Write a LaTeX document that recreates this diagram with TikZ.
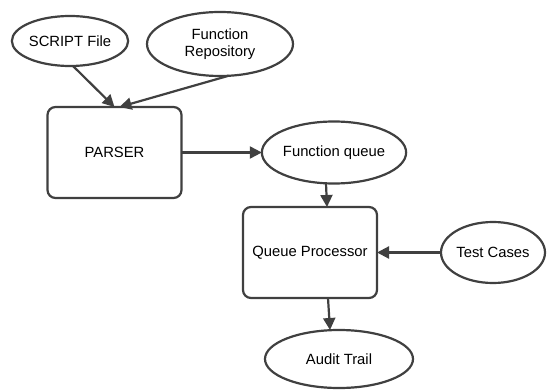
\documentclass[tikz,border=0pt]{standalone}
\usepackage{fontspec}
\setmainfont{Liberation Sans}
\usetikzlibrary{arrows.meta,shapes.geometric}
\definecolor{edge}{HTML}{404040}
\tikzset{
  base/.style={draw=edge, line width=2.2pt, fill=white, font=\fontsize{14.8}{17}\selectfont, align=center, inner sep=0pt, outer sep=0pt},
  oval/.style={base, ellipse, minimum width=#1},
  procbox/.style={base, rectangle, rounded corners=8pt, minimum width=134pt, minimum height=91pt},
  arr/.style={draw=edge, line width=2.2pt, -{Triangle[length=12pt,width=12pt]}},
}
\begin{document}
\begin{tikzpicture}[x=1pt,y=-1pt]
\useasboundingbox (0,0) rectangle (548,390);
\node[oval=115pt, minimum height=50pt] (script) at (70,41) {SCRIPT File};
\node[oval=146pt, minimum height=64pt] (repo) at (220,44) {Function\\Repository};
\node[procbox] (parser) at (114.5,152.5) {PARSER};
\node[oval=137pt, minimum height=62pt] (fq) at (334,152.5) {Function queue};
\node[procbox] (qp) at (310,252.5) {Queue Processor};
\node[oval=104pt, minimum height=61pt] (tc) at (493,252.5) {Test Cases};
\node[oval=148pt, minimum height=58pt] (audit) at (339,359) {Audit Trail};
\draw[arr] ([xshift=3pt]script.south) -- ([xshift=0pt]parser.north);
\draw[arr] (repo.-75) -- ([xshift=5pt]parser.north);
\draw[arr] (parser.east) -- (fq.west);
\draw[arr] ([xshift=-8pt]fq.south) -- ([xshift=17pt]qp.north);
\draw[arr] (tc.west) -- (qp.east);
\draw[arr] ([xshift=18pt]qp.south) -- ([xshift=-9pt]audit.north);
\end{tikzpicture}
\end{document}
